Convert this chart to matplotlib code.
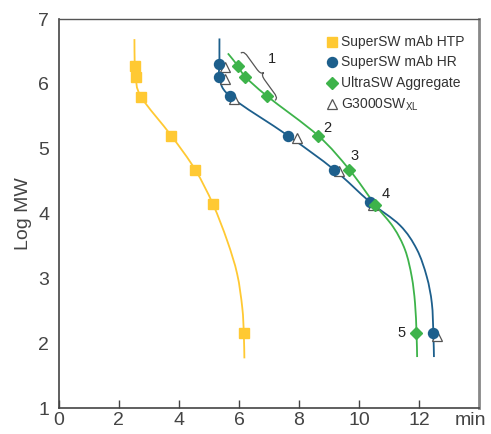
import numpy as np
import matplotlib
matplotlib.use("Agg")
import matplotlib.pyplot as plt
from matplotlib.path import Path
from matplotlib.patches import PathPatch
import matplotlib.transforms as mtransforms

plt.rcParams['font.family'] = ['Liberation Sans', 'DejaVu Sans']

# ---- data: calibration points (elution time, log MW) ----
htp_t = [2.53, 2.56, 2.74, 3.75, 4.54, 5.13, 6.16]
htp_logmw = [6.28, 6.11, 5.80, 5.20, 4.68, 4.15, 2.16]

hr_t = [5.35, 5.35, 5.70, 7.64, 9.16, 10.36, 12.47]
hr_logmw = [6.31, 6.11, 5.81, 5.20, 4.68, 4.18, 2.16]

ultra_t = [5.96, 6.21, 6.94, 8.64, 9.67, 10.53, 11.89]
ultra_logmw = [6.28, 6.11, 5.81, 5.20, 4.68, 4.14, 2.16]

g3000_t = [5.54, 5.54, 5.85, 7.92, 9.33, 10.47, 12.58]
g3000_logmw = [6.26, 6.07, 5.77, 5.16, 4.65, 4.13, 2.12]

# calibration curves
htp_curve_t = [2.52, 2.53, 2.56, 2.74, 3.75, 4.54, 5.13, 5.61, 5.94, 6.11, 6.16, 6.18]
htp_curve_y = [6.69, 6.28, 6.11, 5.80, 5.20, 4.68, 4.15, 3.58, 3.07, 2.55, 2.16, 1.77]

hr_curve_t = [5.35, 5.35, 5.36, 5.70, 7.64, 9.16, 10.36, 11.36, 11.92, 12.25, 12.42, 12.47, 12.49]
hr_curve_y = [6.70, 6.31, 6.11, 5.81, 5.20, 4.68, 4.18, 3.82, 3.45, 3.03, 2.62, 2.16, 1.79]

ultra_curve_t = [5.63, 5.96, 6.21, 6.94, 8.64, 9.67, 10.53, 11.14, 11.53, 11.75, 11.86, 11.91, 11.93]
ultra_curve_y = [6.47, 6.28, 6.11, 5.81, 5.20, 4.68, 4.14, 3.79, 3.44, 3.03, 2.62, 2.16, 1.79]

labels = ["SuperSW mAb HTP", "SuperSW mAb HR", "UltraSW Aggregate",
          "G3000SW$_{\\mathregular{XL}}$"]
peak_labels = ["1", "2", "3", "4", "5"]
peak_t = [7.10, 8.93, 9.86, 10.90, 11.42]
peak_y = [6.38, 5.32, 4.89, 4.30, 2.16]

xticks = [0, 2, 4, 6, 8, 10, 12]
yticks = [1, 2, 3, 4, 5, 6, 7]

C_YEL = '#FFC933'
C_BLU = '#1D5F8C'
C_GRN = '#3DB34A'
C_TXT = '#444444'

fig = plt.figure(figsize=(4.91, 4.34), dpi=100)
ax = fig.add_axes([0.1196, 0.0592, 0.8566, 0.8970])
ax.set_xlim(0, 14)
ax.set_ylim(1, 7)


def smooth_path(xs, ys):
    p = np.column_stack([xs, ys]).astype(float)
    ext = np.vstack([p[0], p, p[-1]])
    verts = [p[0]]
    codes = [Path.MOVETO]
    for i in range(1, len(ext) - 2):
        p0, p1, p2, p3 = ext[i - 1], ext[i], ext[i + 1], ext[i + 2]
        c1 = p1 + (p2 - p0) / 6.0
        c2 = p2 - (p3 - p1) / 6.0
        verts += [c1, c2, p2]
        codes += [Path.CURVE4] * 3
    return Path(verts, codes)


for cx, cy, col in [(htp_curve_t, htp_curve_y, C_YEL),
                    (hr_curve_t, hr_curve_y, C_BLU),
                    (ultra_curve_t, ultra_curve_y, C_GRN)]:
    ax.add_patch(PathPatch(smooth_path(cx, cy), fill=False, edgecolor=col,
                           lw=1.3, zorder=2))

ax.plot(g3000_t, g3000_logmw, ls='none', marker='^', ms=6.5, mfc='white',
        mec='#555555', mew=0.9, zorder=3)
ax.plot(htp_t, htp_logmw, ls='none', marker='s', ms=7.5, color=C_YEL, zorder=4)
ax.plot(hr_t, hr_logmw, ls='none', marker='o', ms=7.2, color=C_BLU, zorder=4)
ax.plot(ultra_t, ultra_logmw, ls='none', marker='D', ms=6.2, color=C_GRN, zorder=4)

for s, tx, ty in zip(peak_labels, peak_t, peak_y):
    ax.text(tx, ty, s, fontsize=10.5, color='#222222', ha='center', va='center')

# curly brace for peak 1
h, w = 21.0, 2.6
bverts = [(0, h), (w, h), (w, h - w), (w, h - 2 * w),
          (w, 2 * w),
          (w, 0.8 * w), (1.2 * w, 0), (2 * w, 0),
          (1.2 * w, 0), (w, -0.8 * w), (w, -2 * w),
          (w, -h + 2 * w),
          (w, -h + w), (w, -h), (0, -h)]
bcodes = [Path.MOVETO, Path.CURVE4, Path.CURVE4, Path.CURVE4,
          Path.LINETO,
          Path.CURVE4, Path.CURVE4, Path.CURVE4,
          Path.CURVE4, Path.CURVE4, Path.CURVE4,
          Path.LINETO,
          Path.CURVE4, Path.CURVE4, Path.CURVE4]
btrans = (mtransforms.Affine2D().rotate_deg(35.9).scale(1 / 72.0)
          + fig.dpi_scale_trans
          + mtransforms.ScaledTranslation(6.63, 6.11, ax.transData))
ax.add_patch(PathPatch(Path(bverts, bcodes), fill=False, edgecolor='#555555',
                       lw=0.9, transform=btrans, zorder=3))

# legend
leg_x_m, leg_x_t = 0.649, 0.672
leg_y = [0.9417, 0.8888, 0.8348, 0.7809]
styles = [dict(marker='s', ms=7.5, color=C_YEL),
          dict(marker='o', ms=7.2, color=C_BLU),
          dict(marker='D', ms=6.2, color=C_GRN),
          dict(marker='^', ms=6.5, mfc='white', mec='#555555', mew=0.9)]
for lab, st, yy in zip(labels, styles, leg_y):
    ax.plot([leg_x_m], [yy], ls='none', transform=ax.transAxes, clip_on=False, **st)
    ax.text(leg_x_t, yy, lab, transform=ax.transAxes, fontsize=10,
            color='#333333', va='center', ha='left')

ax.set_xticks(xticks)
ax.set_yticks(yticks)
ax.tick_params(axis='x', direction='in', length=6, width=1, color='#444444',
               labelsize=14, labelcolor=C_TXT, pad=3)
ax.tick_params(axis='y', length=0, labelsize=14, labelcolor=C_TXT, pad=7)
ax.set_ylabel("Log MW", fontsize=14, color=C_TXT, labelpad=4)
ax.text(13.7, -0.009, "min", transform=mtransforms.blended_transform_factory(
    ax.transData, ax.transAxes), fontsize=14, color=C_TXT, ha='center', va='top')

for side in ['left', 'bottom']:
    ax.spines[side].set_color('#444444')
    ax.spines[side].set_linewidth(1.2)
ax.spines['top'].set_color('#555555')
ax.spines['top'].set_linewidth(1.0)
ax.spines['right'].set_color('#888888')
ax.spines['right'].set_linewidth(2.0)

fig.savefig("out.png", dpi=100)
